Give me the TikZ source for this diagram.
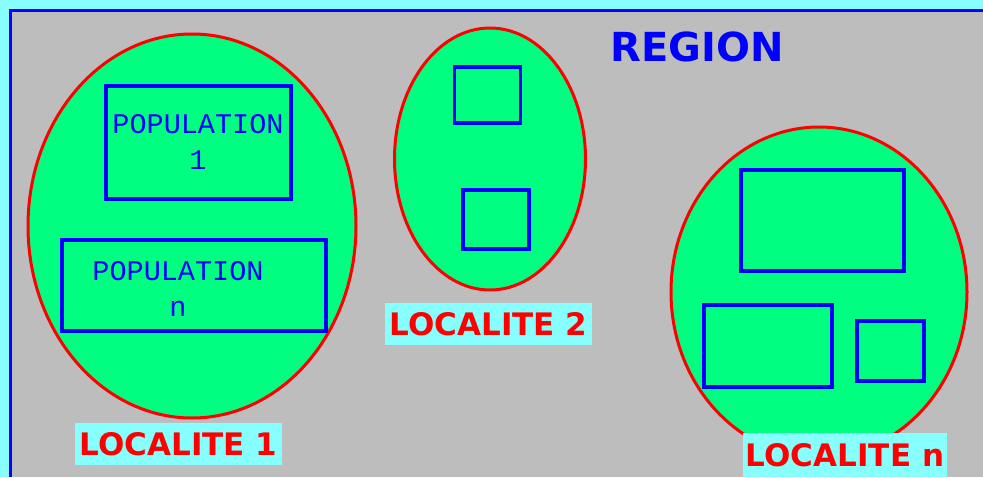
\documentclass[tikz,border=0pt]{standalone}
\usepackage{fontspec}
\setmainfont{DejaVu Sans}
\newfontfamily\popfont{Liberation Mono}
\usetikzlibrary{shapes.geometric}
\definecolor{skycyan}{HTML}{88FFFF}
\definecolor{panelgray}{HTML}{BDBDBD}
\definecolor{zonegreen}{HTML}{00FF80}
\definecolor{pureblue}{HTML}{0000FF}
\definecolor{purered}{HTML}{FF0000}
\tikzset{
  zone/.style={ellipse, draw=purered, fill=zonegreen, line width=3pt, inner sep=0pt},
  popbox/.style={rectangle, draw=pureblue, line width=3.4pt, inner sep=0pt},
  poptext/.style={text=pureblue, align=center, font=\popfont\fontsize{28.5}{36}\selectfont},
  tag/.style={rectangle, fill=skycyan, text=purered, inner sep=0pt,
              font=\bfseries\fontsize{31}{32}\selectfont},
}
\begin{document}
\begin{tikzpicture}[x=1pt,y=-1pt]
\useasboundingbox (0,0) rectangle (983,477);
% backdrop and region panel
\fill[skycyan] (0,0) rectangle (983,477);
\fill[panelgray] (10,10) rectangle (983,477);
\draw[pureblue, line width=3pt] (10,477) -- (10,10) -- (983,10);

\node[text=pureblue, font=\bfseries\fontsize{40}{42}\selectfont] (region) at (697,47) {REGION};

% localities
\node[zone, minimum width=328pt, minimum height=384pt] (loc1) at (192,226) {};
\node[zone, minimum width=191pt, minimum height=262pt] (loc2) at (490,159) {};
\node[zone, minimum width=296pt, minimum height=330pt] (locn) at (819,292) {};

% populations in locality 1
\node[popbox, minimum width=185pt, minimum height=113pt] (pop1) at (198.5,142.5) {};
\node[poptext] (pop1t) at (198,142) {POPULATION\\1};
\node[popbox, minimum width=264pt, minimum height=91pt] (popn) at (194,285.5) {};
\node[poptext] (popnt) at (178,289) {POPULATION\\n};

% populations in locality 2
\node[popbox, minimum width=66pt, minimum height=56pt] (p21) at (487.5,95) {};
\node[popbox, minimum width=66pt, minimum height=59pt] (p22) at (496,219.5) {};

% populations in locality n
\node[popbox, minimum width=163pt, minimum height=101pt] (pn1) at (822.5,220.5) {};
\node[popbox, minimum width=128pt, minimum height=82pt] (pn2) at (768,346) {};
\node[popbox, minimum width=67pt, minimum height=60pt] (pn3) at (890.5,351) {};

% locality tags
\node[tag, minimum width=207pt, minimum height=42pt] (tag1) at (178.5,444) {LOCALITE 1};
\node[tag, minimum width=207pt, minimum height=42pt] (tag2) at (488.5,324) {LOCALITE 2};
\node[tag, minimum width=204pt, minimum height=44pt] (tagn) at (845,455) {LOCALITE n};
\end{tikzpicture}
\end{document}
